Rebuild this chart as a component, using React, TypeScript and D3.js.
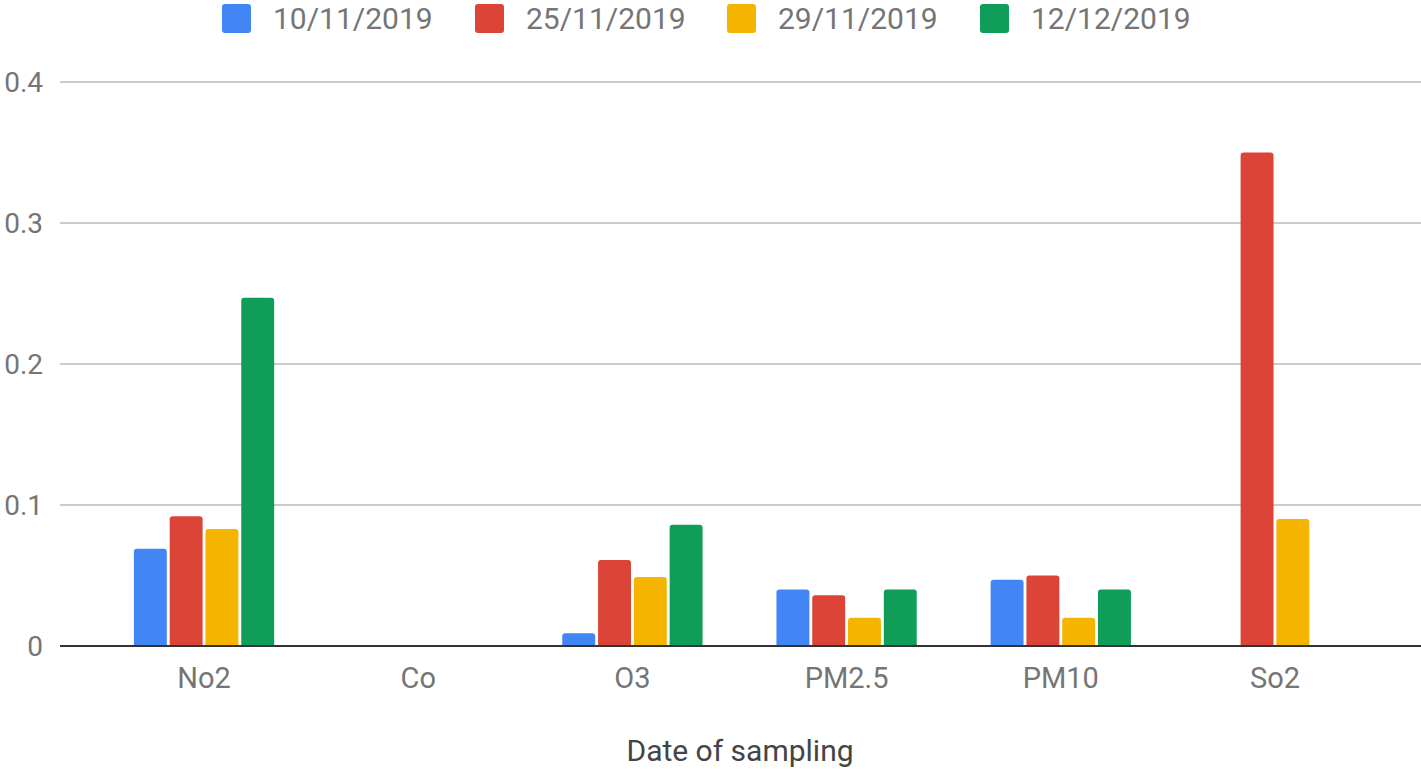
import React from 'react';
import * as d3 from 'd3';

const categories = ['No2', 'Co', 'O3', 'PM2.5', 'PM10', 'So2'];
const seriesNames = ['10/11/2019', '25/11/2019', '29/11/2019', '12/12/2019'];
const seriesColors = ['#4285F4', '#DB4437', '#F4B400', '#0F9D58'];
// values per series, in category order (null = no value)
const s1 = [0.069, null, 0.009, 0.040, 0.047, null];
const s2 = [0.092, null, 0.061, 0.036, 0.050, 0.350];
const s3 = [0.083, null, 0.049, 0.020, 0.020, 0.090];
const s4 = [0.247, null, 0.086, 0.040, 0.040, null];
const yTicks = [0, 0.1, 0.2, 0.3, 0.4];

const W = 1421;
const H = 769;
const FONT = 'Roboto, "Noto Sans", sans-serif';

const topRound = (x: number, y: number, w: number, h: number, r: number) => {
  const rr = Math.min(r, h / 2, w / 2);
  return `M${x},${y + h}V${y + rr}Q${x},${y} ${x + rr},${y}H${x + w - rr}Q${x + w},${y} ${x + w},${y + rr}V${y + h}Z`;
};

const App: React.FC = () => {
  const values = [s1, s2, s3, s4];
  const x = d3.scaleBand<string>().domain(categories).range([60, W - 2]).padding(0.345);
  const inner = d3.scaleBand<number>().domain([0, 1, 2, 3]).range([0, x.bandwidth()]).paddingInner(0.08);
  const y = d3.scaleLinear().domain([0, 0.4]).range([646, 82]);

  const legendX = [222, 475, 727, 980];

  return (
    <svg width={W} height={H} style={{ position: 'absolute', left: 0, top: 0, background: '#fff' }} fontFamily={FONT}>
      {/* legend */}
      {seriesNames.map((name, i) => (
        <g key={name} transform={`translate(${legendX[i]},0)`}>
          <rect x={0} y={4} width={29} height={29} rx={3} fill={seriesColors[i]} />
          <text x={51} y={29} fontSize={30} fill="#757575">{name}</text>
        </g>
      ))}

      {/* grid + y labels */}
      {yTicks.map(t => (
        <g key={t}>
          {t !== 0 && <line x1={60} x2={W} y1={y(t)} y2={y(t)} stroke="#cccccc" strokeWidth={2} />}
          <text x={43} y={y(t) + 10} textAnchor="end" fontSize={28} fill="#757575">{t === 0 ? '0' : t.toString()}</text>
        </g>
      ))}

      {/* bars */}
      {categories.map((c, ci) => {
        const present = values.map((v, si) => ({ v: v[ci], si })).filter(d => d.v !== null && d.v !== undefined);
        const n = present.length;
        if (!n) return null;
        const full = (inner(3) as number) + inner.bandwidth();
        const used = (inner(n - 1) as number) + inner.bandwidth();
        const off = (full - used) / 2;
        return present.map((d, k) => {
          const bx = (x(c) as number) + off + (inner(k) as number);
          const by = y(d.v as number);
          return (
            <path key={c + d.si} d={topRound(bx, by, inner.bandwidth(), y(0) - by, 3)} fill={seriesColors[d.si]} />
          );
        });
      })}

      {/* baseline */}
      <line x1={60} x2={W} y1={y(0)} y2={y(0)} stroke="#333333" strokeWidth={2} />

      {/* x labels */}
      {categories.map(c => (
        <text key={c} x={(x(c) as number) + x.bandwidth() / 2} y={688} textAnchor="middle" fontSize={29} fill="#757575">{c}</text>
      ))}

      <text x={740} y={761} textAnchor="middle" fontSize={30} fill="#444444">Date of sampling</text>
    </svg>
  );
};

export default App;
